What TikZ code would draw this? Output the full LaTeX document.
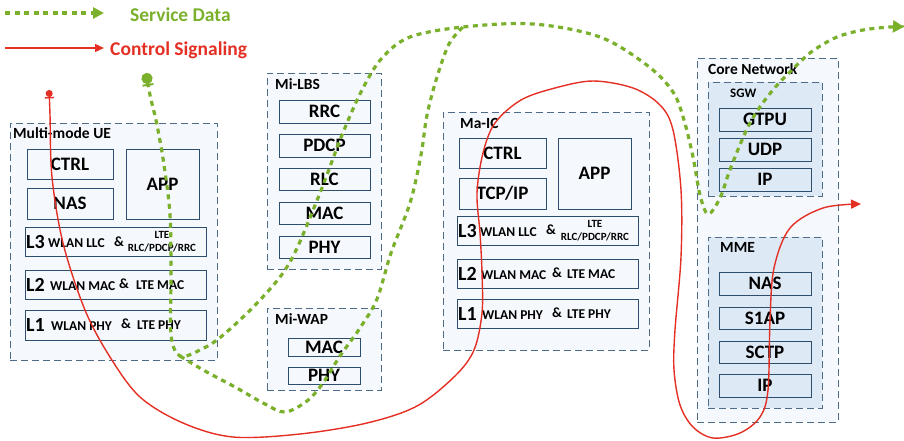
\documentclass[tikz,border=0pt]{standalone}
\usepackage{fontspec}
\setmainfont{Carlito}
\usetikzlibrary{arrows.meta}
\definecolor{gr}{RGB}{122,176,44}
\definecolor{rd}{RGB}{228,48,36}
\definecolor{contc}{RGB}{78,108,135}
\definecolor{layc}{RGB}{45,78,108}
\definecolor{bgc}{RGB}{245,249,253}
\definecolor{subc}{RGB}{221,234,246}
\newcommand\bx[6]{\node[#1, minimum width={#4-#2}, minimum height={#5-#3}] (#6) at ({(#2+#4)/2},{(#3+#5)/2})}
\tikzset{
  cont/.style={draw=contc, fill=bgc, line width=1pt, dash pattern=on 7pt off 4pt, inner sep=0},
  subcont/.style={cont, fill=subc},
  lay/.style={draw=layc, fill=bgc, line width=1pt, inner sep=0, font=\bfseries\fontsize{19}{19}\selectfont},
  sublay/.style={lay, fill=subc},
  lbl/.style={font=\bfseries\fontsize{15.5}{15.5}\selectfont, anchor=west, inner sep=0},
  big/.style={font=\bfseries\fontsize{20}{20}\selectfont, anchor=west, inner sep=0},
  mid/.style={font=\bfseries\fontsize{13.5}{13.5}\selectfont, anchor=west, inner sep=0},
  amp/.style={font=\bfseries\fontsize{14}{14}\selectfont, anchor=west, inner sep=0},
  sml/.style={font=\bfseries\fontsize{11}{11}\selectfont, inner sep=0},
  gline/.style={draw=gr, line width=3.2pt, dash pattern=on 5pt off 4.5pt},
  rline/.style={draw=rd, line width=1.4pt},
}
\begin{document}
\begin{tikzpicture}[x=1pt,y=-1pt]
\useasboundingbox (0,0) rectangle (904,440);
% ---------------- Multi-mode UE
\bx{cont}{10}{123}{217}{360}{ue} {};
\node[lbl] (uelbl) at (13,133) {Multi-mode UE};
\bx{lay}{27}{149}{113}{179}{uectrl} {CTRL};
\bx{lay}{27}{188}{113}{219}{uenas} {NAS};
\bx{lay}{126}{149}{199}{219}{ueapp} {APP};
\bx{lay}{25}{227}{206}{256}{uel3} {};
\bx{lay}{25}{270}{206}{299}{uel2} {};
\bx{lay}{25}{310}{206}{340}{uel1} {};
\node[big] (uel3a) at (26,242) {L3};
\node[mid] (uel3b) at (48,243) {WLAN LLC};
\node[amp] (uel3c) at (114,242) {\&};
\node[sml] (uel3d) at (162,235) {LTE};
\node[sml] (uel3e) at (162,248) {RLC/PDCP/RRC};
\node[big] (uel2a) at (26,285) {L2};
\node[mid] (uel2b) at (50,286) {WLAN MAC};
\node[amp] (uel2c) at (119,284) {\&};
\node[mid] (uel2d) at (136,285) {LTE MAC};
\node[big] (uel1a) at (26,325) {L1};
\node[mid] (uel1b) at (51,326) {WLAN PHY};
\node[amp] (uel1c) at (121,324) {\&};
\node[mid] (uel1d) at (137,325) {LTE PHY};
% ---------------- Mi-LBS
\bx{cont}{267}{73}{381}{269}{lbs} {};
\node[lbl] (lbslbl) at (275,84) {Mi-LBS};
\bx{lay}{279}{100}{370}{123}{rrc} {RRC};
\bx{lay}{279}{134}{370}{157}{pdcp} {PDCP};
\bx{lay}{279}{168}{370}{190}{rlc} {RLC};
\bx{lay}{279}{202}{370}{224}{lmac} {MAC};
\bx{lay}{279}{236}{370}{258}{lphy} {PHY};
% ---------------- Mi-WAP
\bx{cont}{267}{308}{381}{390}{wap} {};
\node[lbl] (waplbl) at (275,319) {Mi-WAP};
\bx{lay}{288}{338}{360}{356}{wmac} {MAC};
\bx{lay}{288}{367}{360}{384}{wphy} {PHY};
% ---------------- Ma-IC
\bx{cont}{443}{112}{649}{350}{ic} {};
\node[lbl] (iclbl) at (460,123) {Ma-IC};
\bx{lay}{459}{138}{546}{168}{icctrl} {CTRL};
\bx{lay}{459}{178}{546}{209}{ictcp} {TCP/IP};
\bx{lay}{558}{138}{631}{209}{icapp} {APP};
\bx{lay}{457}{216}{638}{245}{icl3} {};
\bx{lay}{457}{259}{638}{288}{icl2} {};
\bx{lay}{457}{299}{638}{328}{icl1} {};
\node[big] (icl3a) at (458,231) {L3};
\node[mid] (icl3b) at (480,232) {WLAN LLC};
\node[amp] (icl3c) at (546,230) {\&};
\node[sml] (icl3d) at (595,224) {LTE};
\node[sml] (icl3e) at (595,237) {RLC/PDCP/RRC};
\node[big] (icl2a) at (458,274) {L2};
\node[mid] (icl2b) at (481,275) {WLAN MAC};
\node[amp] (icl2c) at (552,273) {\&};
\node[mid] (icl2d) at (567,274) {LTE MAC};
\node[big] (icl1a) at (458,314) {L1};
\node[mid] (icl1b) at (482,315) {WLAN PHY};
\node[amp] (icl1c) at (552,313) {\&};
\node[mid] (icl1d) at (567,314) {LTE PHY};
% ---------------- Core Network
\bx{cont}{697}{58}{838}{422}{cn} {};
\node[lbl] (cnlbl) at (708,69) {Core Network};
\bx{subcont}{708}{82}{822}{196}{sgw} {};
\node[font=\fontsize{13}{13}\selectfont\bfseries, anchor=west, inner sep=0] (sgwlbl) at (730,93) {SGW};
\bx{sublay}{719}{108}{811}{131}{gtpu} {GTPU};
\bx{sublay}{719}{138}{811}{161}{udp} {UDP};
\bx{sublay}{719}{168}{811}{191}{sip} {IP};
\bx{subcont}{708}{237}{822}{408}{mme} {};
\node[lbl] (mmelbl) at (720,247) {MME};
\bx{sublay}{719}{272}{811}{295}{mnas} {NAS};
\bx{sublay}{719}{307}{811}{329}{s1ap} {S1AP};
\bx{sublay}{719}{341}{811}{363}{sctp} {SCTP};
\bx{sublay}{719}{374}{811}{397}{mip} {IP};
% ---------------- Legend
\coordinate (ga) at (5,13);
\coordinate (gb) at (104,13);
\draw[gline, -{Triangle[length=11pt,width=11pt]}] (ga) -- (gb);
\node[font=\bfseries\fontsize{19.5}{19.5}\selectfont, text=gr, anchor=west, inner sep=0] (gtext) at (130,15) {Service Data};
\coordinate (ra) at (5,48);
\coordinate (rb) at (104,48);
\draw[rline, -{Triangle[length=9pt,width=8pt]}] (ra) -- (rb);
\node[font=\bfseries\fontsize{19.5}{19.5}\selectfont, text=rd, anchor=west, inner sep=0] (rtext) at (110,50) {Control Signaling};
% ---------------- Service data (green)
\coordinate (gs) at (146,72);
\coordinate (ge) at (904,27);
\coordinate (gv) at (180,356);
\coordinate (gj) at (463,27);
\draw[gline, {Circle[length=11pt,width=11pt,sep=1pt]Bar[width=11pt,line width=2pt]}-{Triangle[length=11pt,width=12pt]}]
  plot[smooth, tension=0.55] coordinates {(gs) (150,95) (157,125) (164,165) (170,215) (171,277) (171,335) (gv) (200,350) (222,336) (260,300) (290,262) (318,198) (342,135) (362,90) (382,58) (410,37) (gj) (533,24) (600,37) (648,66) (673,92) (684,120) (693,157) (700,195) (708,214) (720,198) (731,167) (750,123) (772,91) (800,62) (814,50) (837,37) (863,30) (890,27) (ge)};
\draw[gline]
  plot[smooth, tension=0.55] coordinates {(gv) (205,371) (235,387) (265,404) (285,412) (307,401) (323,383) (340,356) (360,328) (377,299) (391,253) (410,203) (421,155) (427,115) (437,77) (449,44) (gj)};
% ---------------- Control signaling (red)
\coordinate (rs) at (49,89);
\coordinate (re) at (861,204);
\draw[rline, {Circle[length=7pt,width=7pt,sep=1pt]Bar[width=9pt,line width=1.4pt]}-{Triangle[length=10pt,width=9pt]}]
  plot[smooth, tension=0.55] coordinates {(rs) (50,115) (52,177) (63,243) (85,310) (110,357) (140,397) (183,423) (233,437) (300,434) (367,423) (417,406) (455,376) (474,350) (482,313) (482,273) (480,233) (477,193) (483,153) (495,123) (521,100) (555,88) (593,81) (633,88) (660,105) (673,130) (681,190) (681,257) (675,330) (674,370) (680,405) (693,427) (713,438) (740,433) (760,417) (768,390) (770,320) (774,268) (790,228) (823,208) (re)};
\end{tikzpicture}
\end{document}
